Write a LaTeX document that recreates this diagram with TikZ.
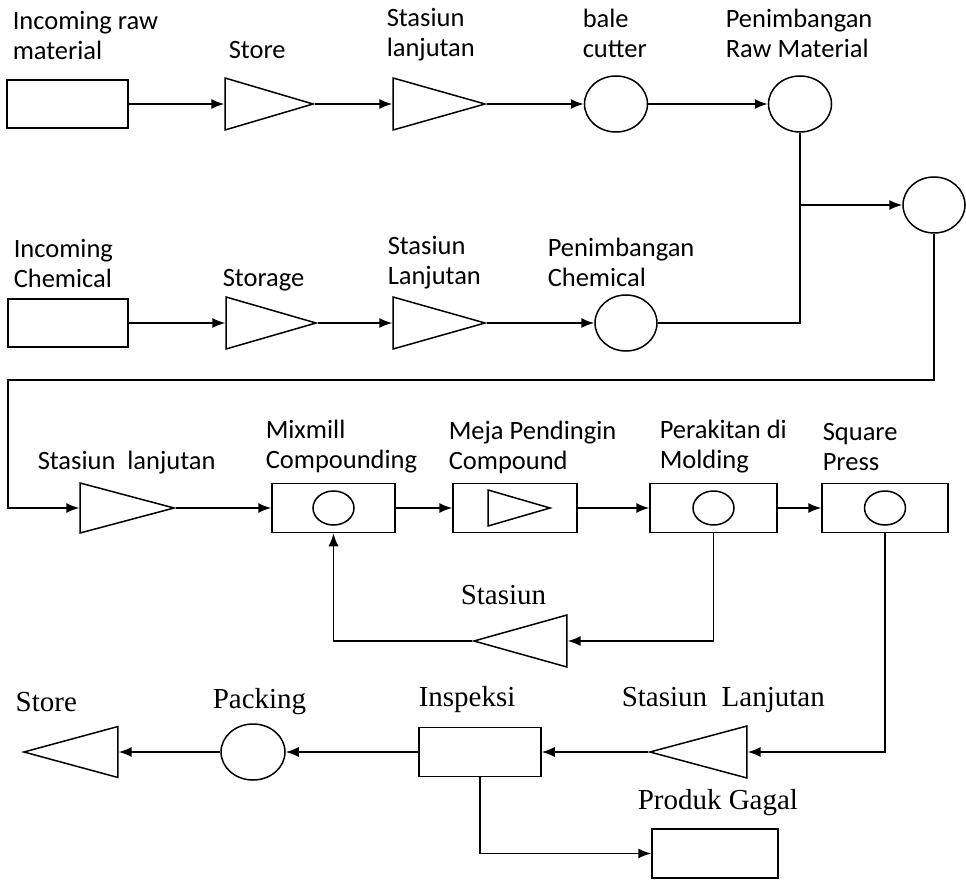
\documentclass[tikz,border=0pt]{standalone}
\usepackage{fontspec}
\setmainfont{Carlito}
\newfontfamily\tnrfont{Liberation Serif}
\usetikzlibrary{shapes.geometric,arrows.meta}
\tikzset{
  boxnode/.style={draw,rectangle,inner sep=0pt,minimum width=124pt,minimum height=49pt},
  opnode/.style={draw,ellipse,inner sep=0pt,minimum width=63pt,minimum height=56pt},
  trinode/.style={draw,isosceles triangle,isosceles triangle stretches,inner sep=0pt,minimum width=52pt,minimum height=92pt},
  lbl/.style={anchor=west,align=left,inner sep=0pt,font=\fontsize{26.5}{30}\selectfont},
  slbl/.style={anchor=west,inner sep=0pt,font=\tnrfont\fontsize{29}{32}\selectfont},
  flow/.style={-{Latex[length=13pt,width=10pt]}}
}
\begin{document}
\begin{tikzpicture}[x=1pt,y=-1pt,line width=1.5pt]
  \useasboundingbox (0,0) rectangle (966,882);
  % first row: raw material
  \node[boxnode,minimum width=121pt,minimum height=48pt] (inraw) at (67.5,104) {};
  \node[trinode,anchor=apex,minimum height=88pt] (store1) at (315,104) {};
  \node[trinode,anchor=apex] (stas1) at (487,104) {};
  \node[opnode] (bale) at (616,104) {};
  \node[opnode] (timbraw) at (800,104) {};
  \node[lbl] at (12,35) {Incoming raw\\material};
  \node[lbl] at (228,50) {Store};
  \node[lbl] at (386,35) {Stasiun\\lanjutan};
  \node[lbl] at (582,33) {bale\\cutter};
  \node[lbl] at (725,33) {Penimbangan\\Raw Material};
  \draw[flow] (inraw.east) -- (store1.west);
  \draw[flow] (store1.apex) -- (stas1.west);
  \draw[flow] (stas1.apex) -- (bale.west);
  \draw[flow] (bale.east) -- (timbraw.west);
  % second row: chemical
  \node[boxnode,minimum width=120pt,minimum height=48pt] (inchem) at (68,323) {};
  \node[trinode,anchor=apex,minimum height=90pt] (storage) at (318,323) {};
  \node[trinode,anchor=apex] (stas2) at (487,323) {};
  \node[opnode,minimum width=62pt] (timbchem) at (626,323) {};
  \node[lbl] at (13,263) {Incoming\\Chemical};
  \node[lbl] at (222,280) {Storage};
  \node[lbl] at (387,263) {Stasiun\\Lanjutan};
  \node[lbl] at (547,262) {Penimbangan\\Chemical};
  \draw[flow] (inchem.east) -- (storage.west);
  \draw[flow] (storage.apex) -- (stas2.west);
  \draw[flow] (stas2.apex) -- (timbchem.west);
  % merging
  \node[opnode,minimum width=62pt] (mixc) at (934,205) {};
  \coordinate (join) at (timbraw.south |- mixc.west);
  \draw (timbraw.south) -- (join);
  \draw (timbchem.east) -| (join);
  \draw[flow] (join) -- (mixc.west);
  % third row
  \node[trinode,anchor=apex,minimum height=94pt,minimum width=50pt] (stas3) at (176,508) {};
  \node[boxnode,minimum width=123pt] (mixbox) at (333.5,508) {};
  \node[draw,ellipse,inner sep=0pt,minimum width=41pt,minimum height=34pt] (mixin) at (mixbox) {};
  \node[boxnode] (mejabox) at (515,508) {};
  \node[draw,isosceles triangle,isosceles triangle stretches,inner sep=0pt,minimum width=36pt,minimum height=62pt,anchor=apex] (mejain) at (552,508) {};
  \node[boxnode,minimum width=127pt] (rakitbox) at (713.5,508) {};
  \node[draw,ellipse,inner sep=0pt,minimum width=41pt,minimum height=34pt] (rakitin) at (rakitbox) {};
  \node[boxnode,minimum width=126pt] (pressbox) at (885,508) {};
  \node[draw,ellipse,inner sep=0pt,minimum width=41pt,minimum height=34pt] (pressin) at (pressbox) {};
  \node[lbl] at (37,463) {Stasiun\ \ lanjutan};
  \node[lbl] at (265,447) {Mixmill\\Compounding};
  \node[lbl] at (448,447) {Meja Pendingin\\Compound};
  \node[lbl] at (659,447) {Perakitan di\\Molding};
  \node[lbl] at (822,447) {Square\\Press};
  \coordinate (bendL) at (8,380);
  \draw[flow] (mixc.south) |- (bendL) |- (stas3.west);
  \draw[flow] (stas3.apex) -- (mixbox.west);
  \draw[flow] (mixbox.east) -- (mejabox.west);
  \draw[flow] (mejabox.east) -- (rakitbox.west);
  \draw[flow] (rakitbox.east) -- (pressbox.west);
  % return loop
  \node[trinode,shape border rotate=180,anchor=apex,minimum height=93pt] (stasfb) at (472,641) {};
  \node[slbl] at (460,595) {Stasiun};
  \draw[flow] (rakitbox.south) |- (stasfb.east);
  \draw[flow] (stasfb.apex) -| (mixbox.south);
  % last row
  \node[trinode,shape border rotate=180,anchor=apex,minimum height=97pt] (stas4) at (648,752) {};
  \node[boxnode,minimum width=122pt] (insp) at (480,752) {};
  \node[opnode,minimum width=64pt] (pack) at (253,752) {};
  \node[trinode,shape border rotate=180,anchor=apex,minimum height=94pt,minimum width=51pt] (storeout) at (22,752) {};
  \node[boxnode,minimum width=126pt] (gagal) at (715,853.5) {};
  \node[slbl] at (15,702) {Store};
  \node[slbl] at (212,702) {Packing};
  \node[slbl] at (418,700) {Inspeksi};
  \node[slbl] at (621,700) {Stasiun\ \ Lanjutan};
  \node[slbl] at (637,803) {Produk Gagal};
  \draw[flow] (pressbox.south) |- (stas4.east);
  \draw[flow] (stas4.apex) -- (insp.east);
  \draw[flow] (insp.west) -- (pack.east);
  \draw[flow] (pack.west) -- (storeout.east);
  \draw[flow] (insp.south) |- (gagal.west);
\end{tikzpicture}
\end{document}
